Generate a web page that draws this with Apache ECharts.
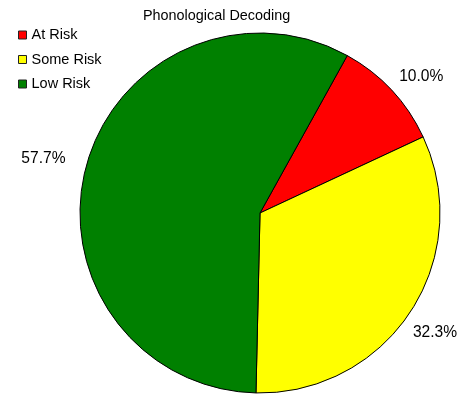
<!DOCTYPE html>
<html><head><meta charset="utf-8">
<script src="https://cdn.jsdelivr.net/npm/echarts@6/dist/echarts.min.js"></script>
<style>html,body{margin:0;padding:0;background:#fff}#chart{width:461px;height:398px}</style>
</head><body><div id="chart"></div>
<script>
// Risk categories and their share of students (percent)
const categories = ['At Risk', 'Some Risk', 'Low Risk'];
const percents = [10.0, 32.3, 57.7];
const sliceColors = ['#FF0000', '#FFFF00', '#008000'];
const chartTitle = 'Phonological Decoding';

const FONT = '"Liberation Sans", Arial, sans-serif';
const PIE_CENTER = [260, 213];
const START_ANGLE = 61;
// small nudges applied to each percentage label
const labelNudges = [[4, 10], [-5, 2], [-9, 2]];

const chart = echarts.init(document.getElementById('chart'), null, { renderer: 'canvas' });

const sliceData = categories.map((name, i) => ({
  name: name,
  value: percents[i],
  itemStyle: { color: sliceColors[i] }
}));

// Invisible ring whose centred labels sit just outside the pie
const labelData = categories.map((name, i) => ({
  name: name,
  value: percents[i],
  itemStyle: { color: 'rgba(0,0,0,0)', borderWidth: 0 }
}));

chart.setOption({
  animation: false,
  title: {
    text: chartTitle,
    left: 143,
    top: 9,
    padding: 0,
    textStyle: { fontFamily: FONT, fontSize: 14.4, fontWeight: 'normal', color: '#000' }
  },
  legend: {
    orient: 'vertical',
    left: 18,
    top: 27,
    padding: 0,
    icon: 'rect',
    itemWidth: 8,
    itemHeight: 8,
    itemGap: 8.5,
    selectedMode: false,
    data: categories,
    itemStyle: { borderColor: '#222', borderWidth: 1 },
    textStyle: { fontFamily: FONT, fontSize: 14.5, lineHeight: 16, color: '#000' }
  },
  series: [
    {
      type: 'pie',
      center: PIE_CENTER,
      radius: 180,
      startAngle: START_ANGLE,
      clockwise: true,
      silent: true,
      label: { show: false },
      labelLine: { show: false },
      itemStyle: { borderColor: '#000', borderWidth: 1 },
      data: sliceData
    },
    {
      type: 'pie',
      center: PIE_CENTER,
      radius: [192, 232],
      startAngle: START_ANGLE,
      clockwise: true,
      silent: true,
      legendHoverLink: false,
      label: {
        show: true,
        position: 'inside',
        formatter: p => p.value.toFixed(1) + '%',
        fontFamily: FONT,
        fontSize: 15.6,
        color: '#000'
      },
      labelLine: { show: false },
      labelLayout: p => ({ dx: labelNudges[p.dataIndex][0], dy: labelNudges[p.dataIndex][1] }),
      data: labelData
    }
  ]
});
</script>
</body></html>
